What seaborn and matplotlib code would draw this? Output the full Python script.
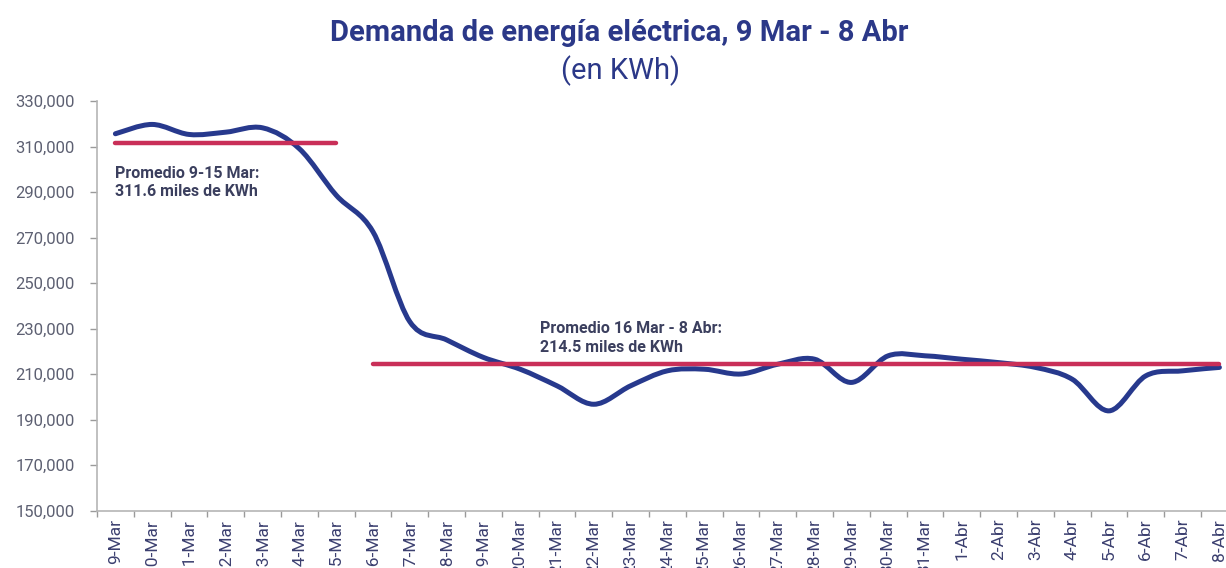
import numpy as np
import pandas as pd
import seaborn as sns
import matplotlib.pyplot as plt
from matplotlib.path import Path
from matplotlib.patches import PathPatch
from matplotlib.ticker import FuncFormatter

# datos (kWh)
fechas = ['9-Mar', '10-Mar', '11-Mar', '12-Mar', '13-Mar', '14-Mar', '15-Mar', '16-Mar',
          '17-Mar', '18-Mar', '19-Mar', '20-Mar', '21-Mar', '22-Mar', '23-Mar', '24-Mar',
          '25-Mar', '26-Mar', '27-Mar', '28-Mar', '29-Mar', '30-Mar', '31-Mar', '1-Abr',
          '2-Abr', '3-Abr', '4-Abr', '5-Abr', '6-Abr', '7-Abr', '8-Abr']
demanda = [315600, 319700, 315300, 316300, 318200, 309000, 288600, 272500,
           233000, 225000, 217300, 212100, 204800, 196700, 204800, 211400,
           212100, 210000, 214300, 216500, 206300, 218000, 218000, 216500,
           215000, 212900, 207700, 193800, 209200, 211400, 212900]
promedio_1 = 311600
promedio_2 = 214500
texto_1 = 'Promedio 9-15 Mar:\n311.6 miles de KWh'
texto_2 = 'Promedio 16 Mar - 8 Abr:\n214.5 miles de KWh'

azul = '#27398d'
rojo = '#c92f58'
texto = '#3b3f5e'

sns.set_theme(style='ticks')
plt.rcParams['font.family'] = ['Roboto', 'DejaVu Sans']

df = pd.DataFrame({'fecha': fechas, 'demanda': demanda})
df['i'] = np.arange(len(df))

fig = plt.figure(figsize=(12.26, 5.68), dpi=100)
ax = fig.add_axes([97 / 1226, 1 - 510.5 / 568, 31 * 36.8 / 1226, (510.5 - 101) / 568])

# linea suavizada (como en excel), curvas bezier entre los puntos
x = df.i.to_numpy(dtype=float)
y = df.demanda.to_numpy(dtype=float)
verts = [(x[0], y[0])]
codes = [Path.MOVETO]
for k in range(len(x) - 1):
    x0, y0 = (x[k - 1], y[k - 1]) if k > 0 else (x[k], y[k])
    x3, y3 = (x[k + 2], y[k + 2]) if k + 2 < len(x) else (x[k + 1], y[k + 1])
    c1 = (x[k] + (x[k + 1] - x0) / 6, y[k] + (y[k + 1] - y0) / 6)
    c2 = (x[k + 1] - (x3 - x[k]) / 6, y[k + 1] - (y3 - y[k]) / 6)
    verts += [c1, c2, (x[k + 1], y[k + 1])]
    codes += [Path.CURVE4] * 3
ax.add_patch(PathPatch(Path(verts, codes), facecolor='none', edgecolor=azul,
                       lw=3.6, capstyle='round', joinstyle='round', zorder=3))

# promedios
p1 = pd.DataFrame({'i': [0, 6], 'v': [promedio_1] * 2})
p2 = pd.DataFrame({'i': [7, 30], 'v': [promedio_2] * 2})
sns.lineplot(data=p1, x='i', y='v', color=rojo, lw=3.2, ax=ax, zorder=4)
sns.lineplot(data=p2, x='i', y='v', color=rojo, lw=3.2, ax=ax, zorder=4)

ax.text(0, 301600, texto_1, fontsize=11.5, fontweight='bold', color=texto,
        va='top', ha='left', linespacing=1.32)
ax.text(11.55, 233200, texto_2, fontsize=11.5, fontweight='bold', color=texto,
        va='top', ha='left', linespacing=1.32)

ax.set_xlim(-0.5, 30.5)
ax.set_ylim(150000, 330000)
ax.set_yticks(np.arange(150000, 330001, 20000))
ax.yaxis.set_major_formatter(FuncFormatter(lambda v, p: f'{v:,.0f}'))
ax.tick_params(axis='y', labelsize=12, colors='#9a9a9a', labelcolor='#5d6072',
               length=5, width=1, pad=11)

ax.set_xticks(np.arange(-0.5, 31, 1))
ax.set_xticklabels([])
ax.set_xticks(np.arange(31), minor=True)
ax.set_xticklabels(fechas, minor=True, rotation=90)
ax.tick_params(axis='x', which='major', length=4, width=1, colors='#9a9a9a')
ax.tick_params(axis='x', which='minor', length=0, pad=6, labelsize=12.5,
               labelcolor='#3c4070')

ax.set_xlabel('')
ax.set_ylabel('')
for s in ['top', 'right']:
    ax.spines[s].set_visible(False)
for s in ['left', 'bottom']:
    ax.spines[s].set_color('#b5b5b5')
    ax.spines[s].set_linewidth(1.2)

fig.text(0.505, 1 - 33 / 568, 'Demanda de energía eléctrica, 9 Mar - 8 Abr',
         ha='center', va='center', fontsize=21, fontweight='bold', color='#2b3888',
         family=['Liberation Sans Narrow', 'Roboto', 'DejaVu Sans'])
fig.text(0.506, 1 - 71 / 568, '(en KWh)', ha='center', va='center', fontsize=21,
         color='#2b3888', family=['Liberation Sans Narrow', 'Roboto', 'DejaVu Sans'])

fig.savefig('out.png', dpi=100)
